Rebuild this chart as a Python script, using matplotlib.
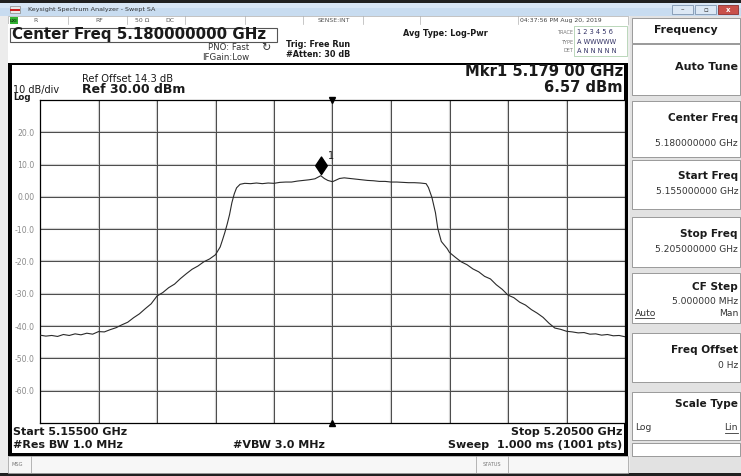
import matplotlib
matplotlib.use("Agg")
import matplotlib.pyplot as plt  # noqa: E402
import numpy as np  # noqa: E402
from matplotlib.patches import Rectangle  # noqa: E402
from matplotlib.path import Path  # noqa: E402

plt.rcParams["font.family"] = ["DejaVu Sans"]

W, H = 741, 476

# trace (GHz, dBm)
freq_ghz = [
    5.1550, 5.1555, 5.1560, 5.1565, 5.1570, 5.1575, 5.1580, 5.1585, 5.1590, 5.1595,
    5.1600, 5.1605, 5.1610, 5.1615, 5.1620, 5.1625, 5.1630, 5.1635, 5.1640, 5.1645,
    5.1650, 5.1655, 5.1660, 5.1665, 5.1670, 5.1675, 5.1680, 5.1685, 5.1690, 5.1695,
    5.1700, 5.1704, 5.1706, 5.1708, 5.1710, 5.1712, 5.1714, 5.1716, 5.1718, 5.1721,
    5.1725, 5.1730, 5.1735, 5.1740, 5.1745, 5.1750, 5.1755, 5.1760, 5.1765, 5.1770,
    5.1775, 5.1780, 5.1785, 5.1790, 5.1793, 5.1796, 5.1800, 5.1803, 5.1806, 5.1810,
    5.1815, 5.1820, 5.1825, 5.1830, 5.1835, 5.1840, 5.1845, 5.1850, 5.1855, 5.1860,
    5.1865, 5.1870, 5.1875, 5.1880, 5.1882, 5.1885, 5.1888, 5.1890, 5.1893, 5.1898,
    5.1900, 5.1905, 5.1910, 5.1915, 5.1920, 5.1925, 5.1930, 5.1935, 5.1940, 5.1945,
    5.1950, 5.1955, 5.1960, 5.1965, 5.1970, 5.1975, 5.1980, 5.1985, 5.1990, 5.1995,
    5.2000, 5.2005, 5.2010, 5.2015, 5.2020, 5.2025, 5.2030, 5.2035, 5.2040, 5.2045,
    5.2050,
]
level_dbm = [
    -42.8, -43.1, -42.9, -43.2, -42.6, -42.9, -42.4, -42.7, -42.2, -42.5,
    -41.7, -41.8, -41.1, -40.5, -39.6, -38.8, -37.4, -36.2, -34.6, -33.1,
    -30.7, -29.6, -28.1, -27.0, -25.3, -23.8, -22.4, -21.4, -20.1, -19.2,
    -17.9, -15.5, -13.3, -11.0, -8.4, -5.5, -1.8, 0.9, 2.8, 3.9,
    4.2, 4.1, 4.3, 4.1, 4.3, 4.2, 4.5, 4.6, 4.6, 4.9,
    5.1, 5.3, 5.6, 6.57, 5.7, 5.1, 4.7, 5.2, 5.7, 5.9,
    5.7, 5.5, 5.3, 5.1, 5.0, 4.8, 4.8, 4.6, 4.6, 4.5,
    4.4, 4.4, 4.3, 4.1, 2.9, -0.2, -4.9, -9.8, -13.8, -16.0,
    -17.2, -18.7, -20.1, -21.0, -22.3, -23.2, -24.6, -25.4, -27.2, -28.6,
    -30.4, -31.2, -32.6, -33.5, -34.9, -36.0, -37.3, -39.1, -40.6, -41.0,
    -41.6, -41.8, -42.1, -42.0, -42.5, -42.4, -42.8, -42.6, -43.0, -42.9,
    -43.3,
]

start_ghz, stop_ghz = 5.155, 5.205
ref_dbm, db_div, n_div = 30.0, 10.0, 10
ylabels = ["", "20.0", "10.0", "0.00", "-10.0", "-20.0", "-30.0",
           "-40.0", "-50.0", "-60.0", ""]
mkr_ghz, mkr_dbm = 5.179, 6.57

DARK = "#1a1a1a"
GRID_C = "#4a4a4a"

fig = plt.figure(figsize=(W / 100, H / 100), dpi=100)
bg = fig.add_axes([0, 0, 1, 1])
bg.set_xlim(0, W)
bg.set_ylim(H, 0)
bg.axis("off")


def box(x0, y0, x1, y1, fc="white", ec="none", lw=0.8, z=1):
    bg.add_patch(Rectangle((x0, y0), x1 - x0, y1 - y0, facecolor=fc,
                           edgecolor=ec, linewidth=lw, zorder=z))


def txt(x, y, s, size=7, bold=False, ha="left", color=DARK, **kw):
    bg.text(x, y, s, fontsize=size, fontweight="bold" if bold else "normal",
            ha=ha, va="center", color=color, zorder=5, **kw)


# window background + frame
box(0, 0, W, H, fc="#ececec")
box(0, 0, W, 3, fc="#202020", z=2)
box(0, 473, W, H, fc="#202020", z=2)
# title bar
box(0, 3, W, 16, fc="#c8dcf0", z=2)
box(0, 3, W, 8, fc="#d8e6f5", z=2)
box(10, 6, 20, 13, fc="#e8e8e8", ec="#888888", lw=0.5, z=3)
box(10, 9, 20, 11, fc="#cc2222", z=3)
txt(28, 9.5, "Keysight Spectrum Analyzer - Swept SA", size=4.6, color="#333333")
box(672, 5, 693, 14, fc="#dce8f5", ec="#7f95b0", lw=0.6, z=3)
box(695, 5, 716, 14, fc="#dce8f5", ec="#7f95b0", lw=0.6, z=3)
box(718, 5, 738, 14, fc="#c9504a", ec="#8a3030", lw=0.6, z=3)
txt(682.5, 9.5, "–", size=5, ha="center", color="#333333")
txt(705.5, 9.5, "▫", size=5, ha="center", color="#333333")
txt(728, 9.5, "x", size=5, bold=True, ha="center", color="white")

# status row
box(8, 16, 628, 24, fc="white", ec="#b0b0b0", lw=0.5, z=2)
box(10, 17, 18, 23.5, fc="#33b233", z=3)
txt(14, 20.5, "LXI", size=3.2, bold=True, ha="center", color="#114411")
for sx in [68, 127, 185, 245, 303, 363, 420, 518]:
    bg.plot([sx, sx], [16, 24], color="#b0b0b0", lw=0.5, zorder=3)
txt(33, 20.5, "R", size=4.4, color="#555555")
txt(95, 20.5, "RF", size=4.4, color="#555555")
txt(135, 20.5, "50 Ω", size=4.4, color="#555555")
txt(165, 20.5, "DC", size=4.4, color="#555555")
txt(318, 20.5, "SENSE:INT", size=4.4, color="#555555")
txt(520, 20.5, "04:37:56 PM Aug 20, 2019", size=4.4, color="#444444")

# header area
box(8, 24, 628, 63, fc="white", z=2)
box(10, 27.5, 277, 42, fc="white", ec="#555555", lw=0.8, z=3)
txt(12, 35, "Center Freq 5.180000000 GHz", size=10.8, bold=True)
txt(249, 47.5, "PNO: Fast", size=6.2, ha="right", color="#333333")
txt(249, 57, "IFGain:Low", size=6.2, ha="right", color="#333333")
txt(266, 48, "↻", size=8, ha="center", color="#333333")
txt(286, 44.5, "Trig: Free Run", size=5.9, bold=True)
txt(286, 54.5, "#Atten: 30 dB", size=5.9, bold=True)
txt(403, 33, "Avg Type: Log-Pwr", size=5.9, bold=True)
box(574, 26, 627, 56, fc="white", ec="#9fc79f", lw=0.5, z=3)
txt(573, 32, "TRACE", size=3.6, ha="right", color="#777777")
txt(573, 42, "TYPE", size=3.6, ha="right", color="#777777")
txt(573, 51, "DET", size=3.6, ha="right", color="#777777")
txt(577, 32.5, "1 2 3 4 5 6", size=4.8, color="#333366")
txt(577, 42, "A WWWWW", size=4.8, color="#333366")
txt(577, 51, "A N N N N N", size=4.8, color="#333366")

# graph panel
box(8, 63, 628, 456, fc="white", z=2)
box(8, 63, 12, 456, fc="black", z=4)
box(624, 63, 628, 456, fc="black", z=4)
box(8, 63, 628, 65, fc="black", z=4)
box(8, 453, 628, 456, fc="black", z=4)
txt(82, 79, "Ref Offset 14.3 dB", size=7.2)
txt(82, 89.5, "Ref 30.00 dBm", size=9.0, bold=True)
txt(13, 89.5, "10 dB/div", size=7.0)
txt(13, 97.5, "Log", size=6.2, bold=True)
txt(623, 72, "Mkr1 5.179 00 GHz", size=10.6, bold=True, ha="right")
txt(623, 87.5, "6.57 dBm", size=10.6, bold=True, ha="right")
txt(13, 432, "Start 5.15500 GHz", size=8.0, bold=True)
txt(13, 445.5, "#Res BW 1.0 MHz", size=8.0, bold=True)
txt(233, 445.5, "#VBW 3.0 MHz", size=8.0, bold=True)
txt(622, 432, "Stop 5.20500 GHz", size=8.0, bold=True, ha="right")
txt(622, 445.5, "Sweep  1.000 ms (1001 pts)", size=8.0, bold=True, ha="right")

# message strip
box(8, 456, 628, 473, fc="#f7f7f7", ec="#9a9a9a", lw=0.5, z=2)
bg.plot([31, 31], [456, 473], color="#9a9a9a", lw=0.5, zorder=3)
bg.plot([476, 476], [456, 473], color="#9a9a9a", lw=0.5, zorder=3)
bg.plot([508, 508], [456, 473], color="#9a9a9a", lw=0.5, zorder=3)
txt(12, 465, "MSG", size=3.6, color="#777777")
txt(492, 465, "STATUS", size=3.6, ha="center", color="#777777")

# right softkey panel
box(630, 16, W, 473, fc="#e2e2e2", z=2)
box(632, 18, 740, 43, fc="white", ec="#8c8c8c", lw=0.6, z=3)
txt(686, 30, "Frequency", size=7.8, bold=True, ha="center")
box(632, 44, 740, 95, fc="white", ec="#8c8c8c", lw=0.6, z=3)
txt(738, 67, "Auto Tune", size=8.0, bold=True, ha="right")

keys = [
    (101, 157, "Center Freq", 118, "5.180000000 GHz", 143),
    (160, 209, "Start Freq", 176, "5.155000000 GHz", 192),
    (217, 267, "Stop Freq", 234, "5.205000000 GHz", 249),
    (273, 323, "CF Step", 287, "5.000000 MHz", 301),
    (333, 382, "Freq Offset", 350, "0 Hz", 366),
    (392, 440, "Scale Type", 404, "", 428),
]
for top, bot, title, ty, val, vy in keys:
    box(632, top, 740, bot, fc="white", ec="#8c8c8c", lw=0.6, z=3)
    txt(738, ty, title, size=7.6, bold=True, ha="right")
    if val:
        txt(738, vy, val, size=6.6, ha="right", color="#333333")
box(632, 443, 740, 456, fc="white", ec="#8c8c8c", lw=0.6, z=3)
txt(635, 313, "Auto", size=6.6, color="#333333")
bg.plot([635, 654], [317.5, 317.5], color="#333333", lw=0.6, zorder=5)
txt(738, 313, "Man", size=6.6, ha="right", color="#333333")
txt(635, 428, "Log", size=6.6, color="#333333")
txt(738, 428, "Lin", size=6.6, ha="right", color="#333333")
bg.plot([725, 738], [432.5, 432.5], color="#333333", lw=0.6, zorder=5)

# trace axes
ax = fig.add_axes([40 / W, 1 - 423 / H, 585 / W, 323 / H])
ax.set_facecolor("white")
ax.set_xlim(start_ghz, stop_ghz)
bottom = ref_dbm - db_div * n_div
ax.set_ylim(bottom, ref_dbm)
xs = np.linspace(start_ghz, stop_ghz, n_div + 1)
ys = np.linspace(ref_dbm, bottom, n_div + 1)
for gx in xs[1:-1]:
    ax.axvline(gx, color="#d2d2d2", lw=1.6, zorder=1)
    ax.axvline(gx, color=GRID_C, lw=0.7, zorder=2)
for gy in ys[1:-1]:
    ax.axhline(gy, color="#d2d2d2", lw=1.6, zorder=1)
    ax.axhline(gy, color=GRID_C, lw=0.7, zorder=2)
ax.set_xticks([])
ax.set_yticks(ys)
ax.set_yticklabels(ylabels)
ax.tick_params(axis="y", length=0, labelsize=5.6, labelcolor="#8a8a8a", pad=4)
for sp in ax.spines.values():
    sp.set_color("black")
    sp.set_linewidth(0.9)

ax.plot(freq_ghz, level_dbm, color="#2a2a2a", lw=0.8, zorder=4)

center = (start_ghz + stop_ghz) / 2
ax.plot([center], [ref_dbm], marker="v", ms=4, color="black", clip_on=False, zorder=6)
ax.plot([center], [bottom], marker="^", ms=4, color="black", clip_on=False, zorder=6)

diamond = Path([(0, 0.1), (0.3, 0.55), (0, 1.0), (-0.3, 0.55), (0, 0.1)],
               [Path.MOVETO, Path.LINETO, Path.LINETO, Path.LINETO, Path.CLOSEPOLY])
ax.plot([mkr_ghz], [mkr_dbm], marker=diamond, ms=28, color="black", zorder=6)
ax.annotate("1", (mkr_ghz, mkr_dbm), xytext=(5, 14), textcoords="offset points",
            fontsize=7, color="#222222", ha="left", va="center", zorder=7)

fig.savefig("out.png", dpi=100)
